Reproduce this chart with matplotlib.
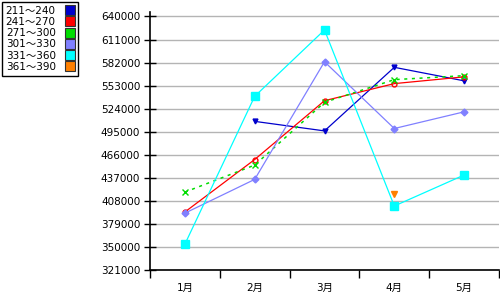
import matplotlib
matplotlib.use('Agg')
import matplotlib.pyplot as plt
from matplotlib.lines import Line2D
import numpy as np

plt.rcParams['font.family'] = ['DejaVu Sans', 'Noto Sans CJK JP']

months = ['1月', '2月', '3月', '4月', '5月']
yticks = [321000, 350000, 379000, 408000, 437000, 466000, 495000,
          524000, 553000, 582000, 611000, 640000]

labels = ['211～240', '241～270', '271～300', '301～330', '331～360', '361～390']
s211 = [np.nan, 508000, 496000, 576000, 559000]
s241 = [394000, 460000, 534000, 555500, 564000]
s271 = [419000, 453000, 532000, 560500, 565500]
s301 = [392500, 435000, 583000, 499000, 520000]
s331 = [353500, 539500, 623000, 401500, 440500]
s361 = [np.nan, np.nan, np.nan, 417000, np.nan]

series = [s211, s241, s271, s301, s331, s361]
colors = ['#0000cc', '#ff0000', '#00dd00', '#8080ff', '#00ffff', '#ff8000']
styles = [
  dict(ls='-', marker='v', ms=3.5, mfc='#0000cc', mec='#0000cc', lw=0.9),
  dict(ls='-', marker='o', ms=3.5, mfc='none', mec='#ff0000', mew=1, lw=0.9),
  dict(ls=(0, (2, 3)), marker='x', ms=5, mec='#00dd00', lw=1.1),
  dict(ls='-', marker='D', ms=3.5, mfc='#8080ff', mec='#8080ff', lw=0.9),
  dict(ls='-', marker='s', ms=5.5, mfc='#00ffff', mec='#00ffff', lw=0.9),
  dict(ls='-', marker='v', ms=4.5, mfc='#ff8000', mec='#ff8000', lw=0.9),
]

fig = plt.figure(figsize=(5, 3), dpi=100)
ax = fig.add_axes([0.3, 0.1, 0.698, 0.86])

x = np.arange(len(months))
for vals, c, st in zip(series, colors, styles):
  ax.plot(x, vals, color=c, **st)

ax.set_xlim(-0.5, 4.5)
ax.set_ylim(321000, 645600)
ax.set_yticks(yticks)
ax.set_yticklabels([str(v) for v in yticks], fontsize=7.5)
ax.yaxis.grid(True, color='#b4b4b4', lw=1)
ax.set_axisbelow(True)
ax.tick_params(axis='y', direction='inout', length=8, width=1, pad=3)

ax.set_xticks(x)
ax.set_xticklabels(months, fontsize=7.5)
ax.set_xticks(np.arange(-0.5, 5, 1), minor=True)
ax.tick_params(axis='x', which='major', length=0, pad=9)
ax.tick_params(axis='x', which='minor', direction='out', length=6, width=1)

for side in ['top', 'right']:
  ax.spines[side].set_visible(False)
for side in ['left', 'bottom']:
  ax.spines[side].set_linewidth(1.2)

handles = [Line2D([], [], ls='none', marker='s', ms=7, mfc=c, mec='#333333', mew=0.8)
           for c in colors]
leg = fig.legend(handles, labels, loc='upper left', bbox_to_anchor=(0.0, 1.0),
                 markerfirst=False, fontsize=7.5, frameon=True, fancybox=False,
                 edgecolor='black', framealpha=1, handlelength=0.8,
                 handletextpad=1.0, labelspacing=0.12, borderpad=0.35,
                 borderaxespad=0.2)
leg.get_frame().set_linewidth(1)

fig.savefig('out.png', dpi=100)
